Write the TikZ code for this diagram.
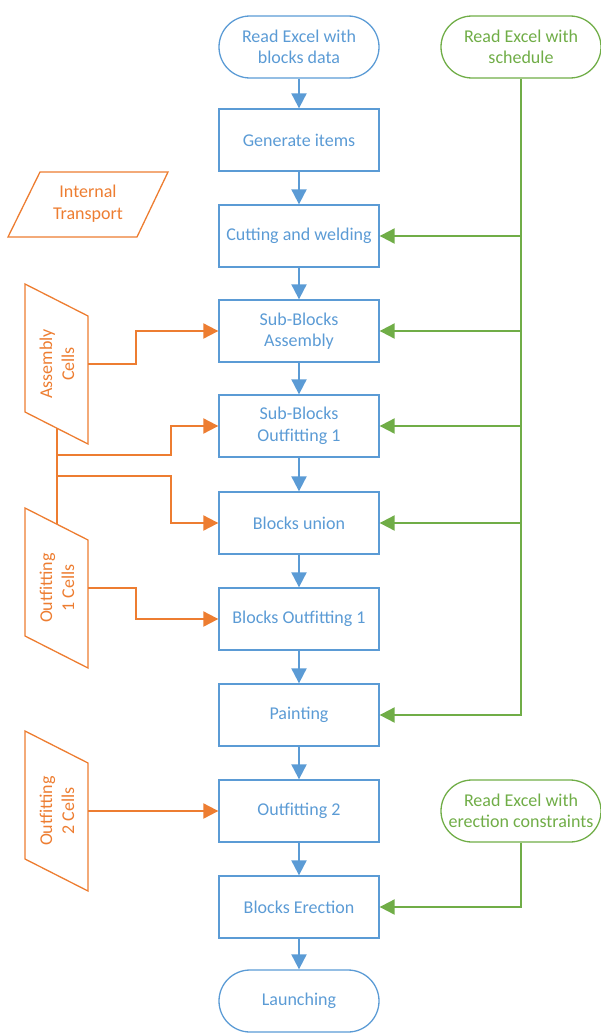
\documentclass[tikz,border=0pt]{standalone}
\usepackage{fontspec}
\setmainfont{Carlito}
\usetikzlibrary{arrows.meta}
\definecolor{cblue}{RGB}{91,155,213}
\definecolor{corange}{RGB}{237,125,49}
\definecolor{cgreen}{RGB}{112,173,71}
\tikzset{
  procbox/.style={draw=cblue, line width=1.3pt, text=cblue, minimum width=160pt, minimum height=62pt, align=center, inner sep=1pt, font=\fontsize{18}{21.5}\selectfont},
  termblue/.style={procbox, rounded corners=31pt},
  termgreen/.style={procbox, draw=cgreen, text=cgreen, rounded corners=31pt},
  otxt/.style={text=corange, align=center, font=\fontsize{18}{22}\selectfont},
  oshape/.style={draw=corange, line width=1.3pt},
  barrow/.style={draw=cblue, line width=2pt, -{Triangle[length=15pt,width=15pt]}},
  garrow/.style={draw=cgreen, line width=2pt, -{Triangle[length=15pt,width=15pt]}},
  gline/.style={draw=cgreen, line width=2pt},
  oarrow/.style={draw=corange, line width=2pt, -{Triangle[length=15pt,width=15pt]}},
  oline/.style={draw=corange, line width=2pt},
}
\begin{document}
\begin{tikzpicture}[x=1pt,y=-1pt]
\useasboundingbox (0,0) rectangle (601,1033);
% main column
\node[termblue] (start) at (299,47) {Read Excel with\\blocks data};
\node[procbox] (gen) at (299,140) {Generate items};
\node[procbox] (cut) at (299,236) {Cutting and welding};
\node[procbox] (sba) at (299,331) {Sub-Blocks\\Assembly};
\node[procbox] (sbo) at (299,426) {Sub-Blocks\\Outfitting 1};
\node[procbox] (uni) at (299,523) {Blocks union};
\node[procbox] (bo1) at (299,619) {Blocks Outfitting 1};
\node[procbox] (pai) at (299,715) {Painting};
\node[procbox] (out2) at (299,811) {Outfitting 2};
\node[procbox] (ere) at (299,907) {Blocks Erection};
\node[termblue] (lau) at (299,1001) {Launching};
% green inputs
\node[termgreen] (sch) at (521,47) {Read Excel with\\schedule};
\node[termgreen] (con) at (521,811) {Read Excel with\\erection constraints};
% blue flow
\draw[barrow] (start) -- (gen);
\draw[barrow] (gen) -- (cut);
\draw[barrow] (cut) -- (sba);
\draw[barrow] (sba) -- (sbo);
\draw[barrow] (sbo) -- (uni);
\draw[barrow] (uni) -- (bo1);
\draw[barrow] (bo1) -- (pai);
\draw[barrow] (pai) -- (out2);
\draw[barrow] (out2) -- (ere);
\draw[barrow] (ere) -- (lau);
% green connectors
\draw[garrow] (sch.south) |- (pai.east);
\draw[garrow] (sch.south |- cut.east) -- (cut.east);
\draw[garrow] (sch.south |- sba.east) -- (sba.east);
\draw[garrow] (sch.south |- sbo.east) -- (sbo.east);
\draw[garrow] (sch.south |- uni.east) -- (uni.east);
\draw[garrow] (con.south) |- (ere.east);
% orange shapes
\draw[oshape] (40,172) -- (168,172) -- (137,237) -- (8,237) -- cycle;
\node[otxt] (it) at (88,204) {Internal\\Transport};
\draw[oshape] (25,284) -- (88,316) -- (88,444) -- (25,412) -- cycle;
\node[otxt, rotate=90] (asm) at (57,364) {Assembly\\Cells};
\draw[oshape] (25,508) -- (88,540) -- (88,668) -- (25,636) -- cycle;
\node[otxt, rotate=90] (oc1) at (57,588) {Outfitting\\1 Cells};
\draw[oshape] (25,731) -- (88,763) -- (88,891) -- (25,859) -- cycle;
\node[otxt, rotate=90] (oc2) at (57,811) {Outfitting\\2 Cells};
% orange connectors
\coordinate (asmE) at (88,364);
\coordinate (oc1E) at (88,588);
\coordinate (oc2E) at (88,811);
\coordinate (busT) at (57,428);
\coordinate (busB) at (57,524);
\coordinate (busA) at (57,455);
\coordinate (busC) at (57,476);
\draw[oarrow] (asmE) -- (136,364) |- (sba.west);
\draw[oline] (busT) -- (busB);
\draw[oarrow] (busA) -- (171,455) |- (sbo.west);
\draw[oarrow] (busC) -- (171,476) |- (uni.west);
\draw[oarrow] (oc1E) -- (136,588) |- (bo1.west);
\draw[oarrow] (oc2E) -- (out2.west);
\end{tikzpicture}
\end{document}
